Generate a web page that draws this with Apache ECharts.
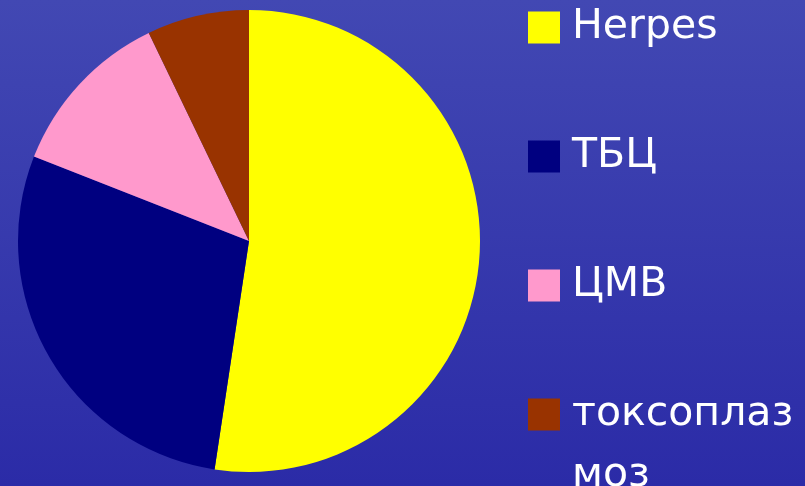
<!DOCTYPE html>
<html>
<head>
<meta charset="utf-8">
<script src="https://cdn.jsdelivr.net/npm/echarts@6/dist/echarts.min.js"></script>
<style>
  html, body { margin: 0; padding: 0; }
  #chart { width: 805px; height: 486px; }
</style>
</head>
<body>
<div id="chart"></div>
<script>
// данные диаграммы
var categories = ["Herpes", "ТБЦ", "ЦМВ", "токсоплазмоз"];
var values = [22, 12, 5, 3];
var colors = ["#FFFF00", "#000080", "#FF99CC", "#993300"];

var myChart = echarts.init(document.getElementById("chart"));

var pieData = [];
for (var i = 0; i < categories.length; i++) {
  pieData.push({ name: categories[i], value: values[i], itemStyle: { color: colors[i] } });
}

var options = {
  animation: false,
  backgroundColor: {
    type: "linear", x: 0, y: 0, x2: 0, y2: 1,
    colorStops: [
      { offset: 0, color: "#4248b3" },
      { offset: 1, color: "#2b2ba7" }
    ]
  },
  legend: {
    orient: "vertical",
    left: 528,
    top: 7,
    padding: 0,
    itemWidth: 32,
    itemHeight: 32,
    itemGap: 88,
    icon: "rect",
    selectedMode: false,
    data: categories,
    formatter: function (name) {
      // последний пункт переносится на две строки, вторую рисуем отдельно
      return name === "токсоплазмоз" ? "токсоплаз" : name;
    },
    textStyle: {
      color: "#ffffff",
      fontFamily: "DejaVu Sans",
      fontSize: 41,
      padding: [0, 0, 2, 7]
    }
  },
  graphic: [
    {
      type: "text",
      left: 572,
      top: 455,
      style: { text: "моз", fill: "#ffffff", font: "41px 'DejaVu Sans'" }
    }
  ],
  series: [
    {
      type: "pie",
      center: [249, 241],
      radius: 231,
      startAngle: 90,
      clockwise: true,
      label: { show: false },
      labelLine: { show: false },
      itemStyle: { borderWidth: 0 },
      emphasis: { disabled: true },
      data: pieData
    }
  ]
};

myChart.setOption(options);
</script>
</body>
</html>
